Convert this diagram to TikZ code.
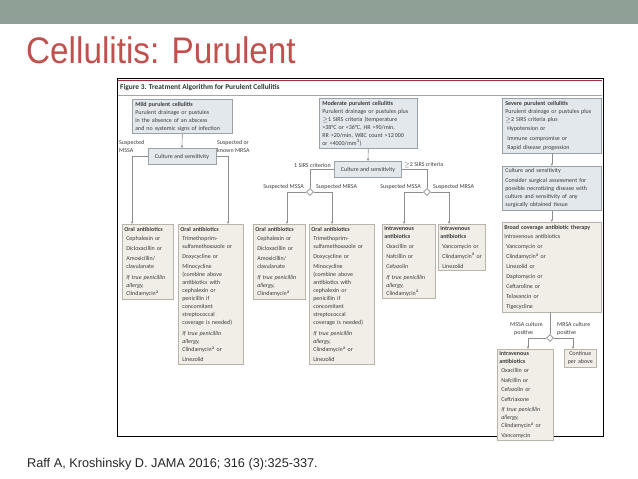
\documentclass[tikz,border=0pt]{standalone}
\usepackage{fontspec}
\setmainfont{Carlito}
\newfontfamily\slidefont{Liberation Sans}
\usetikzlibrary{arrows.meta, shapes.geometric, positioning, calc}
\definecolor{slideband}{HTML}{8FA197}
\definecolor{slidered}{HTML}{C0504D}
\definecolor{figmaroon}{HTML}{A1303F}
\definecolor{topfill}{HTML}{E3E8ED}
\definecolor{topline}{HTML}{9AA2A8}
\definecolor{drugfill}{HTML}{F1EEE7}
\definecolor{drugline}{HTML}{B9B4AA}
\definecolor{wiregray}{HTML}{8E8E8E}
\definecolor{figtext}{HTML}{3C3C3C}
\newcommand{\dind}{\hspace*{2pt}}
\tikzset{
  figfont/.style={font=\fontsize{6}{8}\selectfont, text=figtext},
  topbox/.style={figfont, draw=topline, fill=topfill, line width=0.6pt, anchor=north west, align=left, inner xsep=3pt, inner ysep=2.5pt, text width=#1},
  cultbox/.style={figfont, draw=topline, fill=topfill, line width=0.6pt, minimum height=16pt, minimum width=#1, inner xsep=3pt},
  drugbox/.style={figfont, draw=drugline, fill=drugfill, line width=0.6pt, anchor=north west, align=left, inner xsep=2pt, inner ysep=2.5pt, text width=#1},
  branch/.style={figfont, align=left, inner sep=0pt},
  fork/.style={diamond, draw=wiregray, fill=white, line width=0.6pt, minimum size=7pt, inner sep=0pt},
  wire/.style={draw=wiregray, line width=0.6pt},
  arr/.style={wire, -{Latex[length=2.5pt,width=2.5pt]}}
}
\begin{document}
\begin{tikzpicture}[x=1pt, y=-1pt]
\useasboundingbox (0,0) rectangle (638,479);
% slide
\fill[slideband] (0,0) rectangle (638,24);
\node[anchor=base west, inner sep=0pt, font=\slidefont\fontsize{37}{40}\selectfont, text=slidered, xscale=0.9] (title) at (26,63) {Cellulitis: Purulent};
\node[anchor=base west, inner sep=0pt, font=\slidefont\fontsize{12.7}{14}\selectfont, text=black!85] (cite) at (27,467) {Raff A, Kroshinsky D. JAMA 2016; 316 (3):325-337.};
% figure frame
\draw[line width=0.8pt] (117,78) rectangle (603,436);
\draw[figmaroon, line width=1.6pt] (118,80.5) -- (602,80.5);
\node[anchor=west, inner sep=0pt, font=\bfseries\fontsize{7.4}{8}\selectfont, text=black!80] (figtitle) at (120,88) {Figure 3. Treatment Algorithm for Purulent Cellulitis};
\draw[gray!70, line width=0.6pt] (118,95) -- (602,95);

% mild
\node[topbox=94pt] (mild) at (132,99) {\textbf{Mild purulent cellulitis}\\
  Purulent drainage or pustules\\
  in the absence of an abscess\\
  and no systemic signs of infection};
\node[cultbox=68pt] (cult1) at (182,156.5) {Culture and sensitivity};
\node[branch, anchor=west] (mssa1) at (119,146) {Suspected\\MSSA};
\node[branch, anchor=west] (mrsa1) at (217,146) {Suspected or\\known MRSA};

% moderate
\node[topbox=92pt] (moderate) at (319,98) {\textbf{Moderate purulent cellulitis}\\
  Purulent drainage or pustules plus\\
  $\geq$1 SIRS criteria (temperature\\
  >38°C or <36°C, HR >90/min,\\
  RR >20/min, WBC count >12\,000\\
  or <4000/mm\textsuperscript{3})};
\node[cultbox=67pt] (cult2) at (368,169.5) {Culture and sensitivity};
\node[branch, anchor=east] (sirs1) at (331,165) {1 SIRS criterion};
\node[branch, anchor=west] (sirs2) at (404,165) {$\geq$2 SIRS criteria};
\node[fork] (d1) at (310,192) {};
\node[fork] (d2) at (427,192) {};
\node[branch, anchor=east] (mssa2) at (304,187) {Suspected MSSA};
\node[branch, anchor=west] (mrsa2) at (316,187) {Suspected MRSA};
\node[branch, anchor=east] (mssa3) at (421,187) {Suspected MSSA};
\node[branch, anchor=west] (mrsa3) at (433,187) {Suspected MRSA};

% severe
\node[topbox=93pt] (severe) at (502,98) {\textbf{Severe purulent cellulitis}\\
  Purulent drainage or pustules plus\\
  $\geq$2 SIRS criteria plus\\[1.5pt]
  \dind Hypotension or\\[1.5pt]
  \dind Immune compromise or\\[1.5pt]
  \dind Rapid disease progession};
\node[topbox=93pt] (cult3) at (502,166) {Culture and sensitivity\\[2pt]
  Consider surgical assessment for\\
  possible necrotizing disease with\\
  culture and sensitivity of any\\
  surgically obtained tissue};
\node[drugbox=95pt] (broad) at (502,222) {\textbf{Broad coverage antibiotic therapy}\\[1pt]
  Intravenous antibiotics\\[2.5pt]
  \dind Vancomycin or\\[2pt]
  \dind Clindamycin\textsuperscript{a} or\\[2pt]
  \dind Linezolid or\\[2pt]
  \dind Daptomycin or\\[2pt]
  \dind Ceftaroline or\\[2pt]
  \dind Telavancin or\\[2pt]
  \dind Tigecycline};
\node[fork] (d3) at (550,338) {};
\node[branch, anchor=west] (mssa4) at (510,329) {MSSA culture\\\dind\dind positive};
\node[branch, anchor=west] (mrsa4) at (557,329) {MRSA culture\\positive};

% treatment boxes
\node[drugbox=47pt] (oral1) at (122,224) {\textbf{Oral antibiotics}\\[1.5pt]
  \dind Cephalexin or\\[2pt]
  \dind Dicloxacillin or\\[2pt]
  \dind Amoxicillin/\\
  \dind clavulanate\\[3pt]
  \dind\textit{If true penicillin}\\
  \dind\textit{allergy,}\\
  \dind Clindamycin\textsuperscript{a}};
\node[drugbox=61pt] (oral2) at (178,224) {\textbf{Oral antibiotics}\\[1.5pt]
  \dind Trimethoprim-\\
  \dind sulfamethoxazole or\\[2pt]
  \dind Doxycycline or\\[2pt]
  \dind Minocycline\\
  \dind (combine above\\
  \dind antibiotics with\\
  \dind cephalexin or\\
  \dind penicillin if\\
  \dind concomitant\\
  \dind streptococcal\\
  \dind coverage is needed)\\[3pt]
  \dind\textit{If true penicillin}\\
  \dind\textit{allergy,}\\
  \dind Clindamycin\textsuperscript{a} or\\[2pt]
  \dind Linezolid};
\node[drugbox=48pt] (oral3) at (253,224) {\textbf{Oral antibiotics}\\[1.5pt]
  \dind Cephalexin or\\[2pt]
  \dind Dicloxacillin or\\[2pt]
  \dind Amoxicillin/\\
  \dind clavulanate\\[3pt]
  \dind\textit{If true penicillin}\\
  \dind\textit{allergy,}\\
  \dind Clindamycin\textsuperscript{a}};
\node[drugbox=61pt] (oral4) at (309,224) {\textbf{Oral antibiotics}\\[1.5pt]
  \dind Trimethoprim-\\
  \dind sulfamethoxazole or\\[2pt]
  \dind Doxycycline or\\[2pt]
  \dind Minocycline\\
  \dind (combine above\\
  \dind antibiotics with\\
  \dind cephalexin or\\
  \dind penicillin if\\
  \dind concomitant\\
  \dind streptococcal\\
  \dind coverage is needed)\\[3pt]
  \dind\textit{If true penicillin}\\
  \dind\textit{allergy,}\\
  \dind Clindamycin\textsuperscript{a} or\\[2pt]
  \dind Linezolid};
\node[drugbox=49pt] (iv5) at (382,224) {\textbf{Intravenous}\\
  \textbf{antibiotics}\\[1.5pt]
  \dind Oxacillin or\\[2pt]
  \dind Nafcillin or\\[2pt]
  \dind Cefazolin\\[3pt]
  \dind\textit{If true penicillin}\\
  \dind\textit{allergy,}\\
  \dind Clindamycin\textsuperscript{a}};
\node[drugbox=43pt] (iv6) at (438,224) {\textbf{Intravenous}\\
  \textbf{antibiotics}\\[1.5pt]
  \dind Vancomycin or\\[2pt]
  \dind Clindamycin\textsuperscript{a} or\\[2pt]
  \dind Linezolid};
\node[drugbox=52pt, figfont/.append style={font=\fontsize{6}{7.7}\selectfont}] (iv7) at (497,349) {\textbf{Intravenous}\\
  \textbf{antibiotics}\\[1pt]
  \dind Oxacillin or\\[1.5pt]
  \dind Nafcillin or\\[1.5pt]
  \dind Cefazolin or\\[1.5pt]
  \dind Ceftriaxone\\[2.5pt]
  \dind\textit{If true penicillin}\\
  \dind\textit{allergy,}\\
  \dind Clindamycin\textsuperscript{a} or\\[1.5pt]
  \dind Vancomycin};
\node[drugbox=28pt, align=center] (cont) at (564,349) {Continue\\per above};

% connectors
\draw[arr] (mild.south) -- (cult1.north);
\draw[arr] (cult1.west) -| ([xshift=10pt]oral1.north west);
\draw[arr] (cult1.east) -| ([xshift=50pt]oral2.north west);
\draw[arr] (moderate.south) -- (cult2.north);
\draw[wire] (cult2.west) -| (d1.north);
\draw[wire] (cult2.east) -| (d2.north);
\draw[arr] (d1.west) -| ([xshift=34pt]oral3.north west);
\draw[arr] (d1.east) -| ([xshift=23pt]oral4.north west);
\draw[arr] (d2.west) -| ([xshift=22pt]iv5.north west);
\draw[arr] (d2.east) -| ([xshift=11pt]iv6.north west);
\draw[arr] (severe.south) -- (cult3.north);
\draw[arr] (cult3.south) -- (broad.north);
\draw[wire] (broad.south -| d3) -- (d3.north);
\draw[arr] (d3.west) -| ([xshift=31pt]iv7.north west);
\draw[arr] (d3.east) -| ([xshift=9pt]cont.north west);
\end{tikzpicture}
\end{document}
